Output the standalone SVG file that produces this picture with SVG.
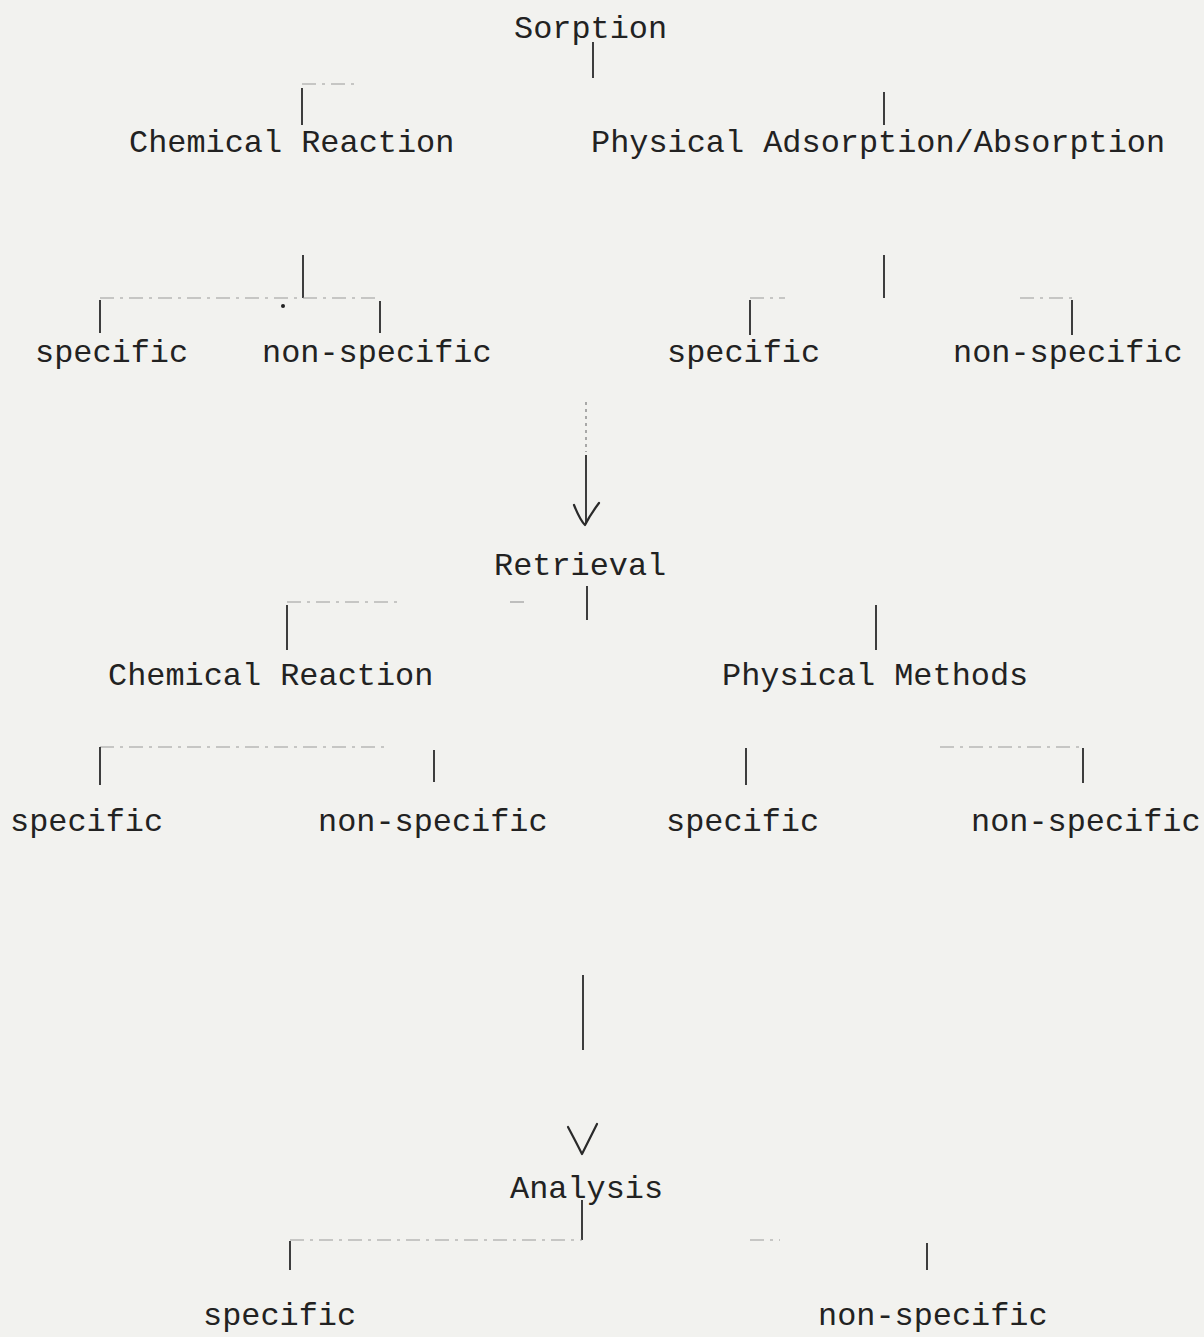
<svg xmlns="http://www.w3.org/2000/svg" width="1204" height="1337" viewBox="0 0 1204 1337">
<style>
text{font-family:"Liberation Mono","DejaVu Sans Mono",monospace;font-size:31.9px;fill:#222}
.c{stroke:#2a2a2a;stroke-width:1.8;fill:none}
.f{stroke:#9a9a9a;stroke-width:1.2;fill:none;stroke-dasharray:14 6 3 6}
.d{stroke:#777;stroke-width:1.2;fill:none;stroke-dasharray:3 4}
.a{stroke:#2a2a2a;stroke-width:2.2;fill:none;stroke-linecap:round;stroke-linejoin:round}
</style>
<rect width="1204" height="1337" fill="#f2f2ef"/>
<g id="connectors">
<line class="c" x1="593" y1="42" x2="593" y2="78"/>
<line class="f" x1="302" y1="84" x2="358" y2="84"/>
<line class="c" x1="302" y1="88" x2="302" y2="125"/>
<line class="c" x1="884" y1="92" x2="884" y2="125"/>
<line class="c" x1="303" y1="255" x2="303" y2="298"/>
<line class="f" x1="100" y1="298" x2="380" y2="298"/>
<line class="c" x1="100" y1="300" x2="100" y2="333"/>
<circle cx="283" cy="306" r="2" fill="#222"/>
<line class="c" x1="380" y1="301" x2="380" y2="333"/>
<line class="c" x1="884" y1="255" x2="884" y2="298"/>
<line class="f" x1="750" y1="298" x2="785" y2="298"/>
<line class="c" x1="750" y1="300" x2="750" y2="335"/>
<line class="f" x1="1020" y1="298" x2="1072" y2="298"/>
<line class="c" x1="1072" y1="300" x2="1072" y2="335"/>
<line class="d" x1="586" y1="402" x2="586" y2="452"/>
<line class="c" x1="586" y1="455" x2="586" y2="524"/>
<path class="a" d="M574 505 Q580 520 585 525 Q590 515 599 503"/>
<line class="c" x1="587" y1="586" x2="587" y2="620"/>
<line class="f" x1="287" y1="602" x2="400" y2="602"/>
<line class="f" x1="510" y1="602" x2="530" y2="602"/>
<line class="c" x1="287" y1="605" x2="287" y2="650"/>
<line class="c" x1="876" y1="605" x2="876" y2="650"/>
<line class="f" x1="100" y1="747" x2="390" y2="747"/>
<line class="c" x1="100" y1="747" x2="100" y2="785"/>
<line class="c" x1="434" y1="750" x2="434" y2="782"/>
<line class="c" x1="746" y1="748" x2="746" y2="785"/>
<line class="f" x1="940" y1="747" x2="1083" y2="747"/>
<line class="c" x1="1083" y1="748" x2="1083" y2="783"/>
<line class="c" x1="583" y1="975" x2="583" y2="1050"/>
<path class="a" d="M568 1127 Q576 1142 582 1154 Q588 1142 597 1124"/>
<line class="c" x1="582" y1="1200" x2="582" y2="1240"/>
<line class="f" x1="290" y1="1240" x2="582" y2="1240"/>
<line class="f" x1="750" y1="1240" x2="780" y2="1240"/>
<line class="c" x1="290" y1="1241" x2="290" y2="1270"/>
<line class="c" x1="927" y1="1243" x2="927" y2="1270"/>
</g>
<g id="sorption"><text x="514" y="38">Sorption</text></g>
<g id="chem1"><text x="129" y="152">Chemical Reaction</text></g>
<g id="phys1"><text x="591" y="152">Physical Adsorption/Absorption</text></g>
<g id="spec1"><text x="35" y="362">specific</text></g>
<g id="nonspec1"><text x="262" y="362">non-specific</text></g>
<g id="spec2"><text x="667" y="362">specific</text></g>
<g id="nonspec2"><text x="953" y="362">non-specific</text></g>
<g id="retrieval"><text x="494" y="575">Retrieval</text></g>
<g id="chem2"><text x="108" y="685">Chemical Reaction</text></g>
<g id="phys2"><text x="722" y="685">Physical Methods</text></g>
<g id="spec3"><text x="10" y="831">specific</text></g>
<g id="nonspec3"><text x="318" y="831">non-specific</text></g>
<g id="spec4"><text x="666" y="831">specific</text></g>
<g id="nonspec4"><text x="971" y="831">non-specific</text></g>
<g id="analysis"><text x="510" y="1198">Analysis</text></g>
<g id="spec5"><text x="203" y="1325">specific</text></g>
<g id="nonspec5"><text x="818" y="1325">non-specific</text></g>
</svg>
